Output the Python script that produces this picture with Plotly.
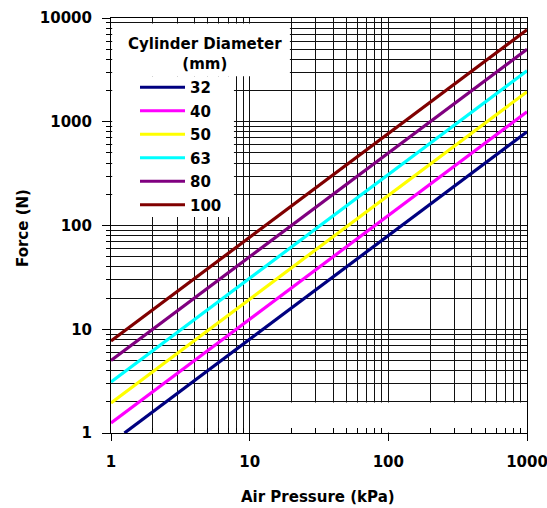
import plotly.graph_objects as go

# ---- data ----
diameters = ["32", "40", "50", "63", "80", "100"]
colors = ["#000080", "#FF00FF", "#FFFF00", "#00FFFF", "#800080", "#800000"]
pressure_32 = [1.25, 10, 100, 1000]
force_32 = [1.0, 8.0, 80, 800]
pressure_40 = [1, 10, 100, 1000]
force_40 = [1.25, 12.5, 125, 1250]
pressure_50 = [1, 10, 100, 1000]
force_50 = [1.95, 19.5, 195, 1950]
pressure_63 = [1, 10, 100, 1000]
force_63 = [3.1, 31, 310, 3100]
pressure_80 = [1, 10, 100, 1000]
force_80 = [5.0, 50, 500, 5000]
pressure_100 = [1, 10, 100, 1000]
force_100 = [7.7, 77, 770, 7700]

x_major = [1, 10, 100, 1000]
x_labels = ["1", "10", "100", "1000"]
y_major = [1, 10, 100, 1000, 10000]
y_labels = ["1", "10", "100", "1000", "10000"]

pressures = [pressure_32, pressure_40, pressure_50, pressure_63, pressure_80, pressure_100]
forces = [force_32, force_40, force_50, force_63, force_80, force_100]

def minor_vals(decades):
    out = []
    for d in decades:
        for k in range(2, 10):
            out.append(k * d)
    return out

FONT = "DejaVu Sans"
BOLD = dict(family=FONT, size=15, color="black", weight="bold")

fig = go.Figure()
for name, col, px_, fy in zip(diameters, colors, pressures, forces):
    fig.add_trace(go.Scatter(x=px_, y=fy, mode="lines", name=name,
                             legendgroup=name,
                             line=dict(color=col, width=3.2)))

grid_col = "#111111"
fig.update_xaxes(type="log", range=[0, 3],
                 tickmode="array", tickvals=x_major, ticktext=x_labels,
                 ticks="outside", ticklen=7, tickcolor="black", tickwidth=1,
                 ticklabelstandoff=8, ticklabeloverflow="allow",
                 showgrid=True, gridcolor=grid_col, gridwidth=1,
                 showline=True, linecolor="black", linewidth=1, mirror=True,
                 zeroline=False, tickfont=BOLD,
                 minor=dict(tickmode="array", tickvals=minor_vals([1, 10, 100]),
                            ticks="inside", ticklen=5, tickcolor="black",
                            showgrid=True, gridcolor=grid_col, gridwidth=1))
fig.update_yaxes(type="log", range=[0, 4],
                 tickmode="array", tickvals=y_major, ticktext=y_labels,
                 ticks="outside", ticklen=8, tickcolor="black", tickwidth=1,
                 ticklabelstandoff=7, ticklabeloverflow="allow",
                 showgrid=True, gridcolor=grid_col, gridwidth=1,
                 showline=True, linecolor="black", linewidth=1, mirror=True,
                 zeroline=False, tickfont=BOLD,
                 minor=dict(tickmode="array", tickvals=minor_vals([1, 10, 100, 1000]),
                            ticks="outside", ticklen=4, tickcolor="black",
                            showgrid=True, gridcolor=grid_col, gridwidth=1))

# white patches that hide the grid behind the legend and in the lower right
white = dict(type="rect", xref="x", yref="y", fillcolor="white",
             line=dict(width=0), layer="between")
fig.add_shape(**white, x0=1.02, x1=19.5, y0=2750, y1=8850)
fig.add_shape(**white, x0=1.02, x1=7.7, y0=121, y1=2750)
fig.add_shape(**white, x0=19.8, x1=990, y0=1.01, y1=1.97)

# plot area on screen: x 111..527, y 18..433
def px(xs):
    return (xs - 111) / 416

def py(ys):
    return 1 - (ys - 18) / 415

# legend title
fig.add_annotation(text="Cylinder Diameter<br>(mm)", xref="paper", yref="paper",
                   x=px(205), y=py(54), xanchor="center", yanchor="middle",
                   align="center", showarrow=False, font=BOLD)
# axis titles
fig.add_annotation(text="Air Pressure (kPa)", xref="paper", yref="paper",
                   x=px(318), y=py(497), xanchor="center", yanchor="middle",
                   showarrow=False, font=BOLD)
fig.add_annotation(text="Force (N)", xref="paper", yref="paper",
                   x=px(23), y=py(228), xanchor="center", yanchor="middle",
                   textangle=-90, showarrow=False, font=BOLD)

fig.update_layout(
    width=547, height=508,
    margin=dict(l=111, r=20, t=18, b=75, autoexpand=False),
    paper_bgcolor="white", plot_bgcolor="white",
    font=dict(family=FONT, color="black"),
    legend=dict(
        xref="container", yref="container",
        x=135 / 547, y=1 - 71 / 508, xanchor="left", yanchor="top",
        bgcolor="rgba(0,0,0,0)", borderwidth=0,
        font=BOLD, itemwidth=45, tracegroupgap=1,
    ),
)

fig.write_html(
    "out.html",
    config={"displayModeBar": False},
    post_script="document.body.style.margin='0';"
                "document.documentElement.style.overflow='hidden';"
                "document.body.style.overflow='hidden';",
)
